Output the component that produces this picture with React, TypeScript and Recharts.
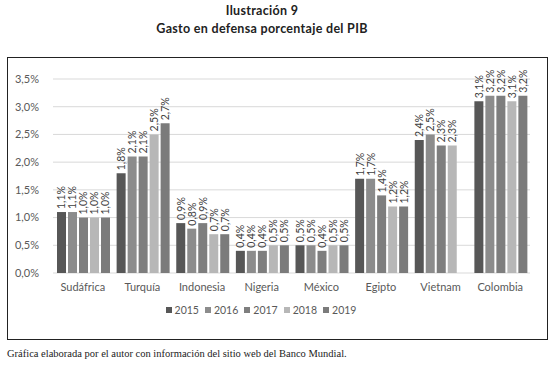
import React from "react";
import { BarChart, Bar, XAxis, YAxis, CartesianGrid, Legend, LabelList } from "recharts";

const categories = ["Sudáfrica", "Turquía", "Indonesia", "Nigeria", "México", "Egipto", "Vietnam", "Colombia"];
const years = ["2015", "2016", "2017", "2018", "2019"];
const v2015 = [1.1, 1.8, 0.9, 0.4, 0.5, 1.7, 2.4, 3.1];
const v2016 = [1.1, 2.1, 0.8, 0.4, 0.5, 1.7, 2.5, 3.2];
const v2017 = [1.0, 2.1, 0.9, 0.4, 0.4, 1.4, 2.3, 3.2];
const v2018 = [1.0, 2.5, 0.7, 0.5, 0.5, 1.2, 2.3, 3.1];
const v2019 = [1.0, 2.7, 0.7, 0.5, 0.5, 1.2, null, 3.2];
const yTicks = [0, 0.5, 1.0, 1.5, 2.0, 2.5, 3.0, 3.5];
const colors = ["#575757", "#8c8c8c", "#7e7e7e", "#b7b7b7", "#7b7b7b"];

const series = [v2015, v2016, v2017, v2018, v2019];
const data = categories.map((c, i) => {
  const row: any = { name: c };
  years.forEach((y, k) => {
    row[y] = series[k][i];
  });
  return row;
});

const fmt = (v: number) => v.toFixed(1).replace(".", ",") + "%";
const FONT = "Lato, 'Open Sans', sans-serif";

const RotLabel = (props: any) => {
  const { x, y, width, value } = props;
  if (value === null || value === undefined) return null;
  const cx = x + width / 2;
  const ty = y - 3;
  return (
    <text
      x={cx}
      y={ty}
      transform={`rotate(-90 ${cx} ${ty})`}
      textAnchor="start"
      dominantBaseline="central"
      fontSize={10.5}
      fill="#404040"
      fontFamily={FONT}
    >
      {fmt(value)}
    </text>
  );
};

const LegendContent = (props: any) => {
  const { payload } = props;
  return (
    <div style={{ display: "flex", justifyContent: "center", fontFamily: FONT, fontSize: 10.5, color: "#595959" }}>
      {(payload || []).map((p: any, i: number) => (
        <div key={p.value} style={{ display: "flex", alignItems: "center", marginRight: i === payload.length - 1 ? 0 : 6 }}>
          <span style={{ display: "inline-block", width: 6, height: 6, background: p.color, marginRight: 3 }} />
          <span>{p.value}</span>
        </div>
      ))}
    </div>
  );
};

export default function App() {
  return (
    <div style={{ position: "absolute", left: 0, top: 0, width: 555, height: 368, background: "#fff" }}>
      <div
        style={{
          position: "absolute",
          left: 0,
          width: 524,
          top: 3,
          textAlign: "center",
          fontFamily: FONT,
          fontWeight: 700,
          fontSize: 12.5,
          color: "#222",
          letterSpacing: 0.3,
        }}
      >
        Ilustración 9
      </div>
      <div
        style={{
          position: "absolute",
          left: 0,
          width: 524,
          top: 21,
          textAlign: "center",
          fontFamily: FONT,
          fontWeight: 700,
          fontSize: 12.5,
          color: "#222",
          letterSpacing: 0.3,
        }}
      >
        Gasto en defensa porcentaje del PIB
      </div>
      <div
        style={{
          position: "absolute",
          left: 7,
          top: 57,
          width: 539,
          height: 281,
          border: "1.5px solid #222",
        }}
      />
      <div style={{ position: "absolute", left: 0, top: 0 }}>
        <BarChart
          width={555}
          height={368}
          data={data}
          margin={{ top: 79, right: 25, left: 0, bottom: 65 }}
          barCategoryGap={4}
          barGap={2}
        >
          <CartesianGrid vertical={false} stroke="#d9d9d9" strokeWidth={1} />
          <XAxis
            dataKey="name"
            axisLine={false}
            tickLine={false}
            interval={0}
            height={30}
            tick={{ fontSize: 11, fill: "#595959", fontFamily: FONT }}
            tickMargin={4}
          />
          <YAxis
            width={53}
            domain={[0, 3.5]}
            ticks={yTicks}
            axisLine={false}
            tickLine={false}
            tickFormatter={(v: number) => fmt(v)}
            tick={{ fontSize: 11, fill: "#595959", fontFamily: FONT }}
            tickMargin={8}
          />
          <Legend
            layout="horizontal"
            verticalAlign="middle"
            align="center"
            content={<LegendContent />}
            wrapperStyle={{ position: "absolute", top: 304, left: 111, width: 300 }}
          />
          {years.map((y, k) => (
            <Bar key={y} dataKey={y} fill={colors[k]} isAnimationActive={false}>
              <LabelList dataKey={y} content={<RotLabel />} />
            </Bar>
          ))}
        </BarChart>
      </div>
      <div
        style={{
          position: "absolute",
          left: 7,
          top: 348,
          fontFamily: "'Liberation Serif', serif",
          fontSize: 10.5,
          color: "#222",
          whiteSpace: "nowrap",
        }}
      >
        Gráfica elaborada por el autor con información del sitio web del Banco Mundial.
      </div>
    </div>
  );
}
